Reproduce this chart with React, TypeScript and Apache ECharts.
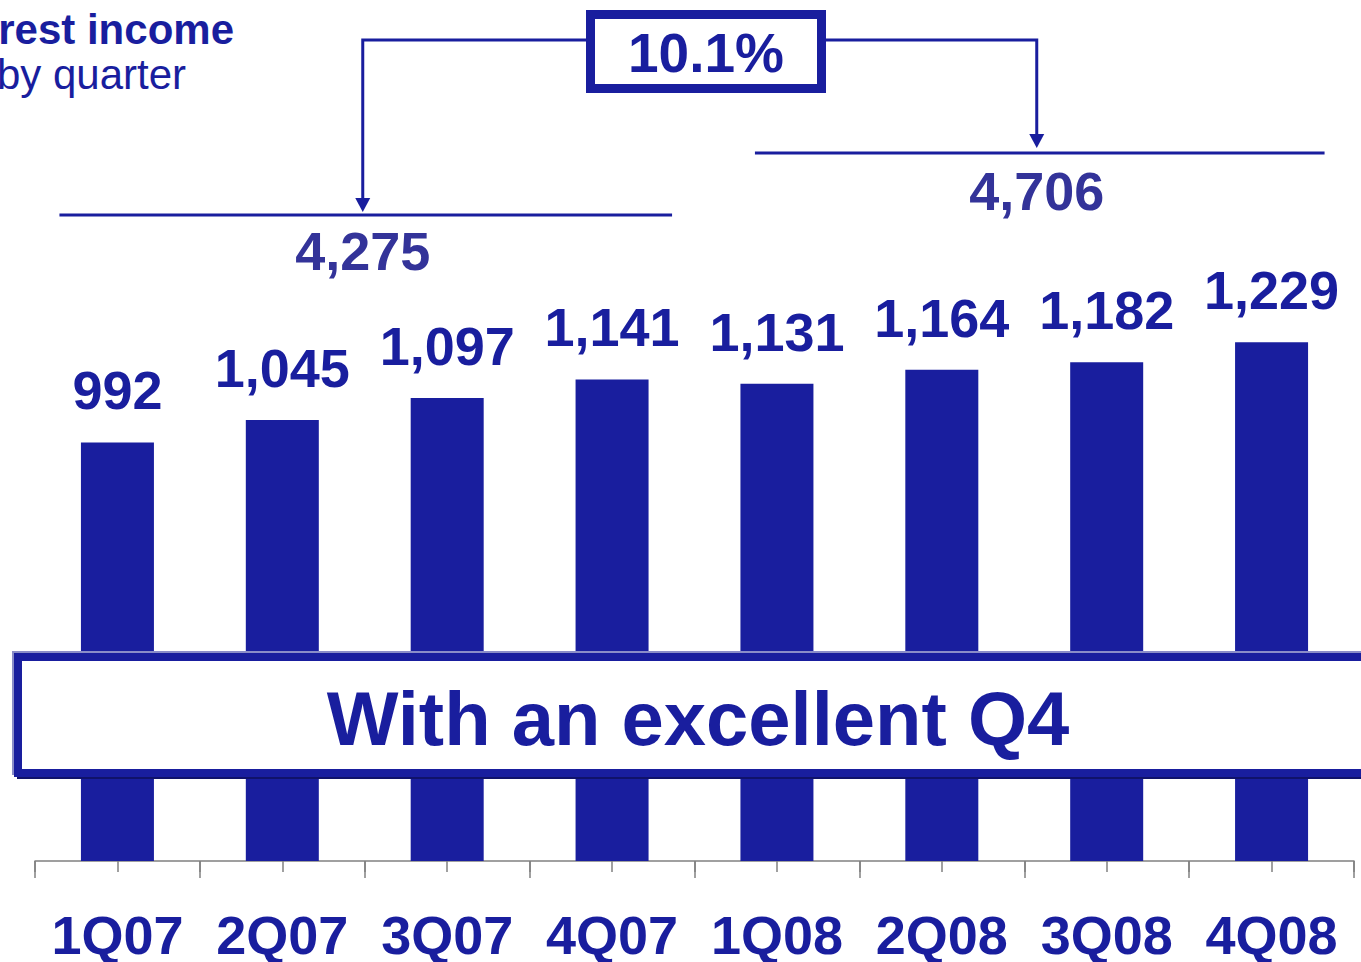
import React, { useEffect, useRef } from "react";
import * as echarts from "echarts";

const categories = ["1Q07", "2Q07", "3Q07", "4Q07", "1Q08", "2Q08", "3Q08", "4Q08"];
const values = [992, 1045, 1097, 1141, 1131, 1164, 1182, 1229];
const titleLines = ["rest income", "by quarter"];
const bannerText = "With an excellent Q4";
const minorTickCategories = categories.flatMap((c) => [c + "-a", c + "-b"]);

const NAVY = "#191e9e";
const SUM_COLOR = "#333399";
const FONT = "'Liberation Sans', Arial, Helvetica, sans-serif";

const fmt = (v: number) => v.toLocaleString("en-US");

export default function App() {
  const ref = useRef<HTMLDivElement>(null);

  useEffect(() => {
    if (!ref.current) return;
    const chart = echarts.init(ref.current, null, { renderer: "svg" });

    chart.setOption({
      animation: false,
      backgroundColor: "#ffffff",
      grid: { left: 35, right: 7, top: 17, bottom: 101, containLabel: false, outerBoundsMode: "none" },
      xAxis: [
        {
          type: "category",
          data: categories,
          boundaryGap: true,
          axisLine: { show: true, lineStyle: { color: "#808080", width: 1.5 } },
          axisTick: { show: true, interval: 0, length: 17, lineStyle: { color: "#808080", width: 1.5 } },
          axisLabel: {
            interval: 0,
            margin: 54,
            fontSize: 54,
            lineHeight: 40,
            fontWeight: "bold",
            color: NAVY,
            fontFamily: FONT,
          },
          splitLine: { show: false },
        },
        {
          type: "category",
          data: minorTickCategories,
          position: "bottom",
          boundaryGap: true,
          axisLine: { show: false },
          axisTick: { show: true, interval: 0, length: 11, lineStyle: { color: "#808080", width: 1.5 } },
          axisLabel: { show: false },
          splitLine: { show: false },
        },
      ],
      yAxis: { type: "value", min: 0, max: 2000, show: false, splitLine: { show: false } },
      series: [
        {
          type: "bar",
          data: values,
          xAxisIndex: 0,
          barWidth: 73,
          itemStyle: { color: NAVY },
          label: {
            show: true,
            position: "top",
            distance: 25,
            fontSize: 54,
            fontWeight: "bold",
            color: NAVY,
            fontFamily: FONT,
            formatter: (p: any) => fmt(p.value),
          },
        },
      ],
    });

    const cx = (i: number) => chart.convertToPixel({ xAxisIndex: 0 }, categories[i]) as number;
    const firstSum = values.slice(0, 4).reduce((a, b) => a + b, 0);
    const secondSum = values.slice(4).reduce((a, b) => a + b, 0);
    const growth = ((secondSum / firstSum - 1) * 100).toFixed(1) + "%";

    const leftStart = cx(0) - 58;
    const leftEnd = cx(3) + 60;
    const rightStart = cx(4) - 22;
    const rightEnd = cx(7) + 53;
    const leftMid = (leftStart + leftEnd) / 2 - 3;
    const rightMid = (rightStart + rightEnd) / 2 - 3;
    const leftY = 215;
    const rightY = 153;
    const connY = 40;
    const boxL = 590.5, boxT = 14.5, boxW = 231, boxH = 74;

    const arrowHead = (x: number, tipY: number) => ({
      type: "polygon",
      z: 120,
      shape: { points: [[x - 7.5, tipY - 14], [x + 7.5, tipY - 14], [x, tipY]] },
      style: { fill: NAVY },
    });

    const textEl = (text: string, x: number, y: number, size: number, weight: string, color: string, align = "center") => ({
      type: "text",
      z: 130,
      x,
      y,
      style: {
        text,
        fill: color,
        font: `${weight} ${size}px ${FONT}`,
        align,
        verticalAlign: "middle",
      },
    });

    chart.setOption({
      graphic: [
        // title
        textEl(titleLines[0], 234, 29, 42, "bold", NAVY, "right"),
        textEl(titleLines[1], 186, 74, 42, "normal", NAVY, "right"),
        // bracket lines
        {
          type: "line",
          z: 110,
          shape: { x1: leftStart, y1: leftY, x2: leftEnd, y2: leftY },
          style: { stroke: NAVY, lineWidth: 3 },
        },
        {
          type: "line",
          z: 110,
          shape: { x1: rightStart, y1: rightY, x2: rightEnd, y2: rightY },
          style: { stroke: NAVY, lineWidth: 3 },
        },
        // connectors
        {
          type: "polyline",
          z: 110,
          shape: { points: [[boxL, connY], [leftMid, connY], [leftMid, leftY - 14]] },
          style: { stroke: NAVY, lineWidth: 3, fill: "none" },
        },
        {
          type: "polyline",
          z: 110,
          shape: { points: [[boxL + boxW, connY], [rightMid, connY], [rightMid, rightY - 18]] },
          style: { stroke: NAVY, lineWidth: 3, fill: "none" },
        },
        arrowHead(leftMid, leftY - 3),
        arrowHead(rightMid, rightY - 5),
        // growth box
        {
          type: "rect",
          z: 115,
          shape: { x: boxL, y: boxT, width: boxW, height: boxH },
          style: { fill: "#ffffff", stroke: NAVY, lineWidth: 9 },
        },
        textEl(growth, 706, 53, 55, "bold", NAVY),
        // sums
        textEl(fmt(firstSum), leftMid, 251, 54, "bold", SUM_COLOR),
        textEl(fmt(secondSum), rightMid, 191, 54, "bold", SUM_COLOR),
        // banner
        {
          type: "rect",
          z: 100,
          shape: { x: 16, y: 655, width: 1420, height: 116 },
          style: { fill: "none", stroke: "#8a8dc8", lineWidth: 8 },
        },
        {
          type: "rect",
          z: 101,
          shape: { x: 21, y: 659, width: 1420, height: 116 },
          style: { fill: "none", stroke: "#10126a", lineWidth: 8 },
        },
        {
          type: "rect",
          z: 102,
          shape: { x: 18, y: 657, width: 1420, height: 116 },
          style: { fill: "#ffffff", stroke: NAVY, lineWidth: 8 },
        },
        textEl(bannerText, 698, 718, 76, "bold", NAVY),
      ],
    });

    return () => chart.dispose();
  }, []);

  return (
    <div
      ref={ref}
      style={{ position: "fixed", left: 0, top: 0, width: 1361, height: 962, background: "#fff" }}
    />
  );
}
